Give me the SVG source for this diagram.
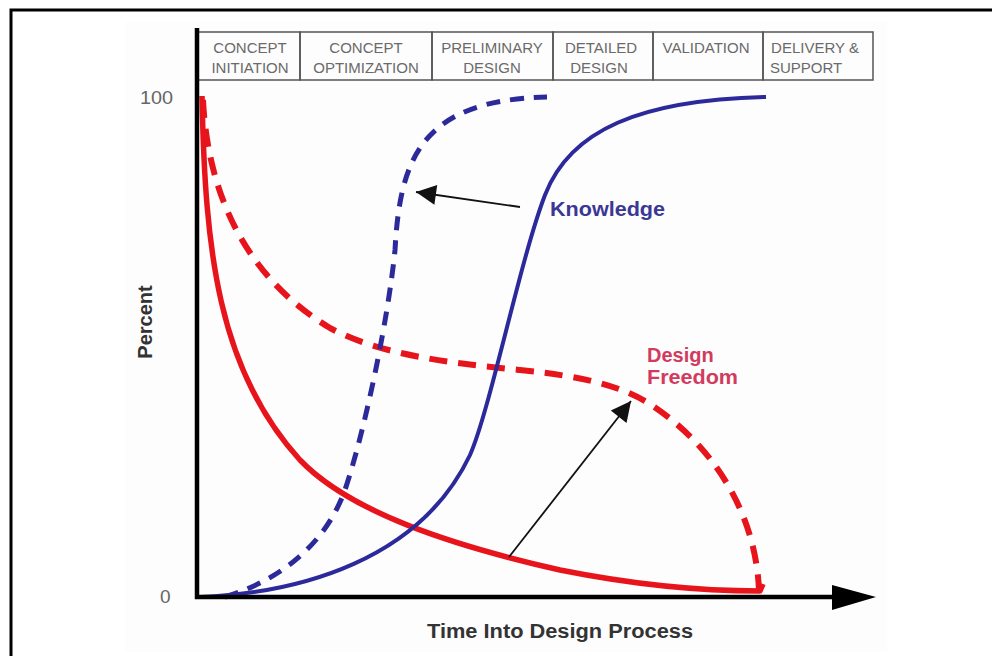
<svg xmlns="http://www.w3.org/2000/svg" width="992" height="656" viewBox="0 0 992 656">
<style>
.hdr{font-family:"Liberation Sans",Arial,sans-serif;font-size:15px;fill:#6a6a6a;text-anchor:middle}
.cell{fill:none;stroke:#555;stroke-width:1.5}
.ax{font-family:"Liberation Sans",Arial,sans-serif;font-size:19px;fill:#666}
.lbl{font-family:"Liberation Sans",Arial,sans-serif;font-weight:bold;font-size:20px}
.red{fill:none;stroke:#e8141c;stroke-linecap:butt}
.blue{fill:none;stroke:#2c299b}
.ptr{fill:none;stroke:#111;stroke-width:1.8}
</style>
<defs>
<marker id="ah" viewBox="0 0 10 10" refX="10" refY="5" markerUnits="userSpaceOnUse" markerWidth="34" markerHeight="20" orient="auto">
<path d="M0,0 L10,5 L0,10 z" fill="#111"/>
</marker>
</defs>
<rect width="992" height="656" fill="#fff"/>
<rect x="125" y="22" width="762" height="630" fill="#fdfdfd"/>
<g id="frame" stroke="#000" stroke-width="3" fill="none">
<path d="M11,656 V10 H992"/>
</g>
<g id="header">
<g id="cell-concept-initiation"><rect class="cell" x="197" y="32" width="103" height="48"/><text class="hdr" x="250" y="53">CONCEPT</text><text class="hdr" x="250" y="73">INITIATION</text></g>
<g id="cell-concept-optimization"><rect class="cell" x="300" y="32" width="132" height="48"/><text class="hdr" x="366" y="53">CONCEPT</text><text class="hdr" x="366" y="73">OPTIMIZATION</text></g>
<g id="cell-preliminary-design"><rect class="cell" x="432" y="32" width="121" height="48"/><text class="hdr" x="492" y="53">PRELIMINARY</text><text class="hdr" x="492" y="73">DESIGN</text></g>
<g id="cell-detailed-design"><rect class="cell" x="553" y="32" width="100" height="48"/><text class="hdr" x="601" y="53">DETAILED</text><text class="hdr" x="599" y="73">DESIGN</text></g>
<g id="cell-validation"><rect class="cell" x="653" y="32" width="110" height="48"/><text class="hdr" x="706" y="53">VALIDATION</text></g>
<g id="cell-delivery-support"><rect class="cell" x="763" y="32" width="110" height="48"/><text class="hdr" x="815" y="53">DELIVERY &amp;</text><text class="hdr" x="806" y="73">SUPPORT</text></g>
</g>
<g id="curves">
<path id="freedom-dashed" class="red" stroke-width="6" stroke-dasharray="18 11" d="M203,100 C208,200 250,280 330,328 C380,355 450,363 520,370 C580,376 620,385 650,404 C720,450 756,520 759,590"/>
<path id="freedom-solid" class="red" stroke-width="5.5" stroke-linejoin="round" d="M202,96 C205,250 218,370 300,460 C350,512 450,545 560,570 C620,582 690,591 760,591 L763,584"/>
<path id="knowledge-dashed" class="blue" stroke-width="5" stroke-dasharray="14 10" d="M225,597 C280,580 325,545 345,490 C365,430 388,320 395,250 C400,160 420,100 547,97"/>
<path id="knowledge-solid" class="blue" stroke-width="4" d="M200,597 C300,593 420,560 470,455 C490,410 520,260 545,195 C570,130 640,100 766,97"/>
</g>
<g id="axes">
<path d="M197,28 V597 H834" fill="none" stroke="#000" stroke-width="4.5"/>
<polygon points="832,585 876,597 832,610" fill="#000"/>
<text class="ax" x="140" y="104" textLength="33" lengthAdjust="spacingAndGlyphs">100</text>
<text class="ax" x="160" y="603">0</text>
</g>
<g id="connectors">
<line class="ptr" x1="520" y1="207" x2="416" y2="192" marker-end="url(#ah)"/>
<line class="ptr" x1="509" y1="557" x2="631" y2="401" marker-end="url(#ah)"/>
</g>
<g id="label-knowledge"><text class="lbl" x="550" y="216" fill="#3b3795" textLength="115" lengthAdjust="spacingAndGlyphs">Knowledge</text></g>
<g id="label-design-freedom"><text class="lbl" x="647" y="362" fill="#d23a5e">Design</text><text class="lbl" x="647" y="384" fill="#d23a5e" textLength="91" lengthAdjust="spacingAndGlyphs">Freedom</text></g>
<g id="label-percent"><text class="lbl" x="0" y="0" fill="#333" text-anchor="middle" transform="translate(152,322) rotate(-90)">Percent</text></g>
<g id="label-time"><text class="lbl" x="427" y="638" fill="#333" textLength="266" lengthAdjust="spacingAndGlyphs">Time Into Design Process</text></g>
</svg>
